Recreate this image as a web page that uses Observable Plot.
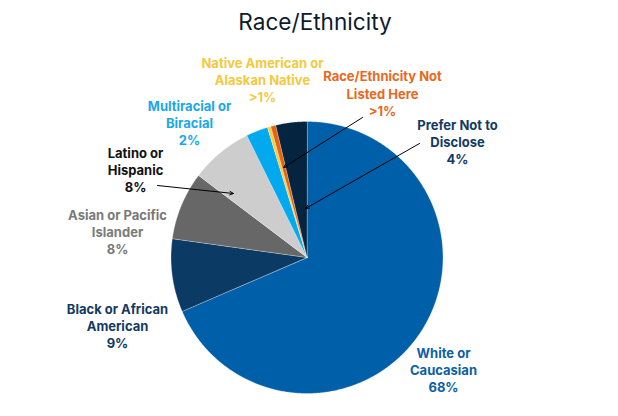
<!DOCTYPE html>
<html>
<head>
<meta charset="utf-8">
<script src="https://cdn.jsdelivr.net/npm/d3@7"></script>
<script src="https://cdn.jsdelivr.net/npm/@observablehq/plot@0.6"></script>
<style>
  html, body { margin: 0; padding: 0; background: #fff; }
  #wrap { width: 618px; height: 416px; overflow: hidden; }
  #title { height: 44px; line-height: 44px; text-align: center; padding-left: 12px; box-sizing: border-box;
           font-family: Inter, "Noto Sans", sans-serif; font-size: 22.6px; font-weight: 400; color: #0d1b2c; }
  svg { display: block; }
</style>
</head>
<body>
<div id="wrap">
  <div id="title">Race/Ethnicity</div>
  <div id="chart"></div>
</div>
<script>
// ---- data ----
const categories = [
  "White or Caucasian",
  "Black or African American",
  "Asian or Pacific Islander",
  "Latino or Hispanic",
  "Multiracial or Biracial",
  "Native American or Alaskan Native",
  "Race/Ethnicity Not Listed Here",
  "Prefer Not to Disclose"
];
const values = [68.5, 8.7, 8.1, 7.4, 2.6, 0.4, 0.6, 3.7];
const labelTexts = [
  "White or\nCaucasian\n68%",
  "Black or African\nAmerican\n9%",
  "Asian or Pacific\nIslander\n8%",
  "Latino or\nHispanic\n8%",
  "Multiracial or\nBiracial\n2%",
  "Native American or\nAlaskan Native\n>1%",
  "Race/Ethnicity Not\nListed Here\n>1%",
  "Prefer Not to\nDisclose\n4%"
];

// ---- styles ----
const sliceColors = ["#005fa9", "#0b3a64", "#676767", "#cdcdcd", "#03a9ee", "#f6cf3f", "#e5620f", "#04243f"];
const labelColors = ["#0d5fa6", "#133a62", "#7a7a7a", "#111111", "#1ba7ea", "#f3c93d", "#e8681c", "#133a62"];

// ---- layout (pixel geometry of the pie in the SVG) ----
const W = 618, H = 372;
const CX = 306.5, CY = 213, R = 136; // pie centre & radius in SVG pixels
const TOP = 44; // title height
// label anchor positions (image pixels)
const labelPx = [[443, 369], [117, 325], [117, 231], [135, 169], [189, 122], [262, 79], [382, 92.5], [457, 141]];
// leader arrows (image pixels): [x1, y1, x2, y2]
const arrowCats = ["Latino or Hispanic", "Race/Ethnicity Not Listed Here", "Prefer Not to Disclose"];
const arrowPx = [[157, 185, 233, 193], [362, 117, 283, 167], [419, 143, 305, 208]];

const toX = px => (px - CX) / R;
const toY = py => (CY + TOP - py) / R;

// build slice polygons in unit-circle coordinates (clockwise from 12 o'clock)
const total = d3.sum(values);
let acc = 0;
const slices = categories.map((c, i) => {
  const a0 = acc / total * 2 * Math.PI;
  acc += values[i];
  const a1 = acc / total * 2 * Math.PI;
  const n = Math.max(2, Math.ceil((a1 - a0) / (Math.PI / 360)));
  const pts = [{x: 0, y: 0}];
  for (let k = 0; k <= n; k++) {
    const a = a0 + (a1 - a0) * k / n;
    pts.push({x: Math.sin(a), y: Math.cos(a)});
  }
  return {category: c, color: sliceColors[i], pts};
});

const labels = categories.map((c, i) => ({
  category: c, text: labelTexts[i], color: labelColors[i],
  x: toX(labelPx[i][0]), y: toY(labelPx[i][1])
}));
const arrows = arrowCats.map((c, i) => ({
  category: c,
  x1: toX(arrowPx[i][0]), y1: toY(arrowPx[i][1]),
  x2: toX(arrowPx[i][2]), y2: toY(arrowPx[i][3])
}));

const chart = Plot.plot({
  width: W, height: H,
  margin: 0,
  x: {domain: [-CX / R, (W - CX) / R], range: [0, W], axis: null},
  y: {domain: [-(H - CY) / R, CY / R], range: [H, 0], axis: null},
  style: {fontFamily: "Inter, 'Noto Sans', sans-serif", background: "#fff"},
  marks: [
    ...slices.map(s => Plot.line(s.pts, {
      x: "x", y: "y", fill: s.color, stroke: "#ffffff", strokeWidth: 0.5,
      strokeOpacity: 0.6, curve: "linear-closed"
    })),
    Plot.arrow(arrows, {
      x1: "x1", y1: "y1", x2: "x2", y2: "y2",
      stroke: "#000", strokeWidth: 1, headLength: 6, headAngle: 50
    }),
    Plot.text(labels, {
      x: "x", y: "y", text: "text", fill: d => d.color,
      fontSize: 13, fontWeight: 700, lineHeight: 1.33, textAnchor: "middle"
    })
  ]
});
document.getElementById("chart").appendChild(chart);
</script>
</body>
</html>
